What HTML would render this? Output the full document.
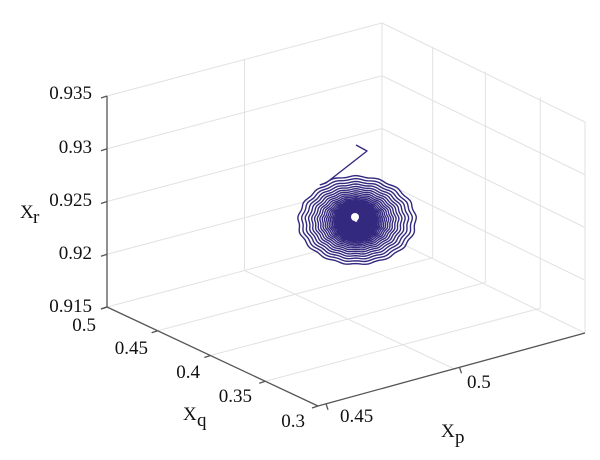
<!DOCTYPE html>
<html><head><meta charset="utf-8"><style>
html,body{margin:0;padding:0;background:#fff;}
svg{display:block;}
text{font-family:"Liberation Serif","Times New Roman",serif;font-size:19px;fill:#111;}
</style></head><body>
<svg id="s" width="600" height="460" viewBox="0 0 600 460" xmlns="http://www.w3.org/2000/svg">
<g id="grid" stroke="#e2e2e2" stroke-width="1" fill="none"></g>
<g id="axes" stroke="#555" stroke-width="1.3" fill="none"></g>
<path id="sp" fill="none" stroke="#33297f" stroke-width="1.4" stroke-linejoin="round"></path>
<circle cx="355" cy="217" r="4" fill="#fff"/>
<g text-anchor="end">
<text x="92" y="99">0.935</text>
<text x="92" y="153">0.93</text>
<text x="92" y="206">0.925</text>
<text x="92" y="259">0.92</text>
<text x="92" y="312">0.915</text>
<text x="96" y="331">0.5</text>
<text x="148" y="354">0.45</text>
<text x="200" y="378">0.4</text>
<text x="252" y="402">0.35</text>
<text x="305" y="427">0.3</text>
</g>
<text x="340" y="422">0.45</text>
<text x="467" y="388">0.5</text>
<text x="20" y="218">X</text><text x="33" y="223" font-size="10">r</text>
<text x="183" y="420">X</text><text x="197" y="426" font-size="10">q</text>
<text x="441" y="437">X</text><text x="455" y="443" font-size="10">p</text>
</svg>
<script>
(function(){
var L=[107,307],F=[318,406],B=[382,234],R=[585,333],H=211;
var LF=[F[0]-L[0],F[1]-L[1]],LB=[B[0]-L[0],B[1]-L[1]];
function ln(g,a,b){var e=document.createElementNS("http://www.w3.org/2000/svg","line");
e.setAttribute("x1",a[0]);e.setAttribute("y1",a[1]);e.setAttribute("x2",b[0]);e.setAttribute("y2",b[1]);g.appendChild(e);}
var g=document.getElementById("grid"),ax=document.getElementById("axes");
function up(p,h){return [p[0],p[1]-h];}
var zs=[0,0.25,0.5,0.75,1];
zs.forEach(function(z){ln(g,up(L,z*H),up(B,z*H));ln(g,up(B,z*H),up(R,z*H));});
ln(g,up(B,0),up(B,H));ln(g,up(R,0),up(R,H));
[0.5].forEach(function(t){var a=[L[0]+t*LB[0],L[1]+t*LB[1]];ln(g,a,up(a,H));ln(g,a,[a[0]+LF[0],a[1]+LF[1]]);});
[0.24,0.49,0.75].forEach(function(t){var a=[B[0]+t*LF[0],B[1]+t*LF[1]];ln(g,a,up(a,H));var c=[L[0]+t*LF[0],L[1]+t*LF[1]];ln(g,c,a);});
ln(ax,up(L,0),up(L,H));ln(ax,L,F);ln(ax,F,R);
zs.forEach(function(z){ln(ax,up(L,z*H),[L[0]-6,L[1]-z*H+2]);});
[0,0.24,0.49,0.75,1].forEach(function(t){var a=[L[0]+t*LF[0],L[1]+t*LF[1]];ln(ax,a,[a[0]-6,a[1]+2]);});
[0.03,0.53].forEach(function(t){var a=[F[0]+t*(R[0]-F[0]),F[1]+t*(R[1]-F[1])];ln(ax,a,[a[0]+2,a[1]+6]);});
var cx=355,cy=218,d="M356,145 L367,151 L326,183";
var N=6000,turns=50;
for(var i=0;i<=N;i++){var f=i/N;var th=-2.2+f*turns*2*Math.PI;
var r=Math.exp(-f*3.4);r=r*(1-0.015*Math.sin(17*th));
var x=cx+1+61*r*Math.cos(th),y=cy+3+45*r*Math.sin(th);
d+=" L"+x.toFixed(1)+","+y.toFixed(1);}
document.getElementById("sp").setAttribute("d",d);
})();
</script>
</body></html>
